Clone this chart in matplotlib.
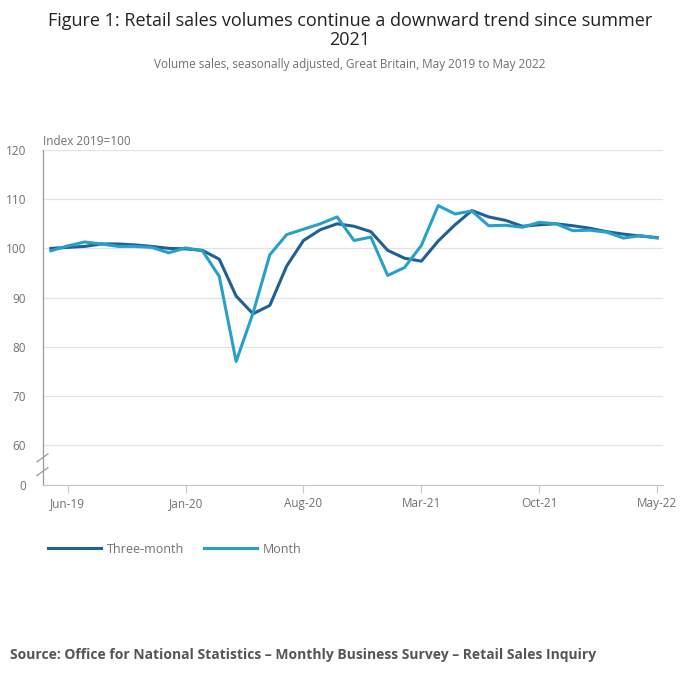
import numpy as np
import matplotlib.pyplot as plt

plt.rcParams['font.family'] = ['Open Sans', 'DejaVu Sans']

# Monthly index, May 2019 to May 2022 (2019=100)
months = ["May-19", "Jun-19", "Jul-19", "Aug-19", "Sep-19", "Oct-19", "Nov-19", "Dec-19",
          "Jan-20", "Feb-20", "Mar-20", "Apr-20", "May-20", "Jun-20", "Jul-20", "Aug-20",
          "Sep-20", "Oct-20", "Nov-20", "Dec-20", "Jan-21", "Feb-21", "Mar-21", "Apr-21",
          "May-21", "Jun-21", "Jul-21", "Aug-21", "Sep-21", "Oct-21", "Nov-21", "Dec-21",
          "Jan-22", "Feb-22", "Mar-22", "Apr-22", "May-22"]

three_month = [100.0, 100.2, 100.4, 100.9, 100.9, 100.7, 100.4, 100.0,
               99.9, 99.6, 97.8, 90.3, 86.7, 88.4, 96.4, 101.6,
               103.8, 105.0, 104.5, 103.4, 99.6, 98.0, 97.4, 101.5,
               104.8, 107.7, 106.4, 105.7, 104.5, 104.8, 105.0, 104.6,
               104.1, 103.4, 102.9, 102.5, 102.2]

month = [99.5, 100.5, 101.3, 100.9, 100.4, 100.4, 100.2, 99.1,
         100.1, 99.5, 94.3, 77.0, 86.8, 98.7, 102.8, 103.9,
         105.0, 106.4, 101.6, 102.3, 94.5, 96.1, 100.6, 108.7,
         107.0, 107.6, 104.6, 104.7, 104.3, 105.3, 105.0, 103.6,
         103.7, 103.3, 102.1, 102.6, 102.1]

tick_labels = ["Jun-19", "Jan-20", "Aug-20", "Mar-21", "Oct-21", "May-22"]
y_ticks = [60, 70, 80, 90, 100, 110, 120]

dark = "#206095"
light = "#27a0cc"
grey_text = "#707070"

fig = plt.figure(figsize=(7.0, 6.82), dpi=100)
ax = fig.add_axes([0.0614, 0.289, 0.886, 0.491])

x = np.arange(len(months))
ax.plot(x, three_month, color=dark, linewidth=2.2, label="Three-month", solid_joinstyle="round")
ax.plot(x, month, color=light, linewidth=2.2, label="Month", solid_joinstyle="round")

y_bottom = 51.9
ax.set_ylim(y_bottom, 120)
ax.set_xlim(-0.47, 36.36)

ax.set_yticks([y_bottom] + y_ticks)
ax.set_yticklabels(["0"] + [str(t) for t in y_ticks])
ax.tick_params(axis="y", length=0, labelsize=8.5, labelcolor=grey_text, pad=12)
for t in y_ticks:
    ax.axhline(t, color="#e3e3e3", linewidth=0.9, zorder=0)

tick_pos = [months.index(m) for m in tick_labels]
ax.set_xticks(tick_pos)
ax.set_xticklabels(tick_labels)
ax.tick_params(axis="x", length=6, color="#c8c8c8", labelsize=8.5, labelcolor=grey_text, pad=3)

for side in ["top", "right"]:
    ax.spines[side].set_visible(False)
ax.spines["left"].set_color("#9a9a9a")
ax.spines["left"].set_linewidth(0.9)
ax.spines["bottom"].set_color("#c8c8c8")
ax.spines["bottom"].set_linewidth(0.9)

# axis break marks between 0 and 60
for yb in [57.4, 54.6]:
    ax.plot([-0.0097, 0.008], [yb - 0.8, yb + 0.8], color="#9a9a9a", linewidth=0.9,
            transform=ax.get_yaxis_transform(), clip_on=False)

ax.text(0, 1.005, "Index 2019=100", transform=ax.transAxes, fontsize=8.5,
        color=grey_text, ha="left", va="bottom")

fig.text(0.5, 0.983, "Figure 1: Retail sales volumes continue a downward trend since summer\n2021",
         ha="center", va="top", fontsize=13, color="#222222", linespacing=1.1)
fig.text(0.5, 0.906, "Volume sales, seasonally adjusted, Great Britain, May 2019 to May 2022",
         ha="center", va="center", fontsize=8.5, color=grey_text)

ax.legend(loc="center left", bbox_to_anchor=(0.069, 0.195), bbox_transform=fig.transFigure,
          ncol=2, frameon=False, fontsize=9, labelcolor=grey_text, handlelength=4.2,
          handletextpad=0.5, columnspacing=1.6, borderaxespad=0.0, borderpad=0.0)

fig.text(0.014, 0.04, "Source: Office for National Statistics \u2013 Monthly Business Survey \u2013 Retail Sales Inquiry",
         ha="left", va="center", fontsize=10, fontweight="bold", color="#555555")

fig.savefig("out.png", dpi=100)
